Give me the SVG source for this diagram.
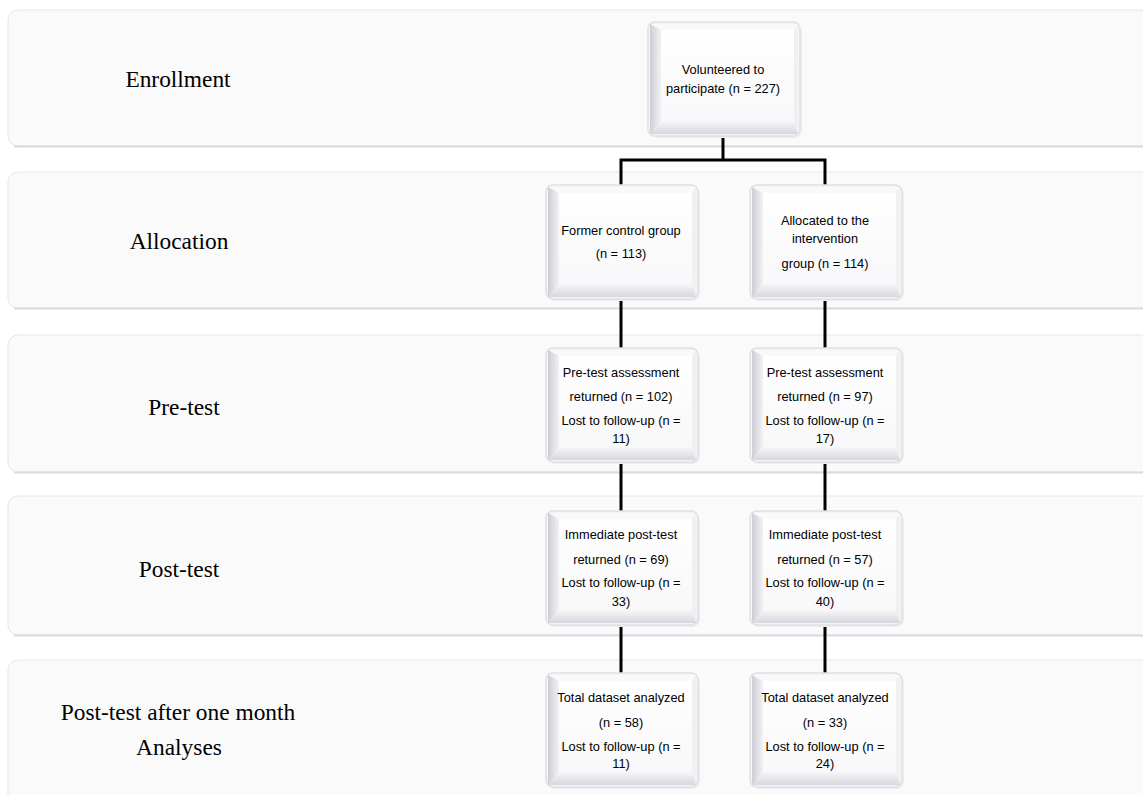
<svg xmlns="http://www.w3.org/2000/svg" width="1143" height="795" viewBox="0 0 1143 795">
<style>
.band{fill:#fafafb;stroke:#e6e6eb;stroke-width:1}
.bshadow{stroke:#d9d9e1;stroke-width:2;fill:none}
.lbl{font-family:"Liberation Serif","Times New Roman",serif;font-size:23.4px;fill:#000;text-anchor:middle}
.t{font-family:"Liberation Sans",Arial,sans-serif;font-size:12.8px;fill:#000;text-anchor:middle}
.conn{stroke:#000;stroke-width:3;fill:none;stroke-linecap:butt}
</style>
<defs>
<linearGradient id="gl" x1="0" y1="0" x2="1" y2="0">
<stop offset="0" stop-color="#cdcdd5"/>
<stop offset="1" stop-color="#f2f2f5"/>
</linearGradient>
<linearGradient id="gb" x1="0" y1="0" x2="0" y2="1">
<stop offset="0" stop-color="#f7f7f9"/>
<stop offset="1" stop-color="#d6d6de"/>
</linearGradient>
<linearGradient id="gf" x1="0" y1="0" x2="0" y2="1">
<stop offset="0" stop-color="#ffffff"/>
<stop offset="1" stop-color="#f8f8fa"/>
</linearGradient>
<symbol id="bevel" viewBox="0 0 152 114" width="152" height="114" overflow="visible">
<rect x="2" y="2" width="152" height="114" rx="8" fill="#ececf0"/>
<rect x="0" y="0" width="152" height="114" rx="7" fill="#f5f5f8" stroke="#dfdfe5" stroke-width="1.5"/>
<polygon points="2,2 150,2 146,8 13,8" fill="#f9f9fb"/>
<polygon points="2,2 13,8 13,99 2,112" fill="url(#gl)"/>
<polygon points="2,112 13,99 146,99 150,112" fill="url(#gb)"/>
<polygon points="150,2 150,112 146,99 146,8" fill="#f0f0f3"/>
<rect x="13" y="8" width="133" height="91" fill="url(#gf)"/>
</symbol>
</defs>

<g id="bands">
<rect class="band" x="8" y="10" width="1150" height="136" rx="10"/>
<line class="bshadow" x1="14" y1="146.5" x2="1143" y2="146.5"/>
<rect class="band" x="8" y="172" width="1150" height="136" rx="10"/>
<line class="bshadow" x1="14" y1="308.5" x2="1143" y2="308.5"/>
<rect class="band" x="8" y="335" width="1150" height="137" rx="10"/>
<line class="bshadow" x1="14" y1="472.5" x2="1143" y2="472.5"/>
<rect class="band" x="8" y="496" width="1150" height="139" rx="10"/>
<line class="bshadow" x1="14" y1="635.5" x2="1143" y2="635.5"/>
<rect class="band" x="8" y="660" width="1150" height="145" rx="10"/>
</g>

<g id="labels">
<text class="lbl" x="178" y="87">Enrollment</text>
<text class="lbl" x="179" y="249">Allocation</text>
<text class="lbl" x="184" y="415">Pre-test</text>
<text class="lbl" x="179" y="577">Post-test</text>
<text class="lbl" x="178" y="720">Post-test after one month</text>
<text class="lbl" x="179" y="755">Analyses</text>
</g>

<g id="connectors">
<polyline class="conn" points="723,136 723,160"/>
<polyline class="conn" points="621,185 621,160 825,160 825,185"/>
<line class="conn" x1="621" y1="299" x2="621" y2="348"/>
<line class="conn" x1="825" y1="299" x2="825" y2="348"/>
<line class="conn" x1="621" y1="462" x2="621" y2="511"/>
<line class="conn" x1="825" y1="462" x2="825" y2="511"/>
<line class="conn" x1="621" y1="624" x2="621" y2="673"/>
<line class="conn" x1="825" y1="624" x2="825" y2="673"/>
</g>

<g id="n-volunteered">
<use href="#bevel" x="648" y="22"/>
<text class="t" x="723" y="74">Volunteered to</text>
<text class="t" x="723" y="93">participate (n = 227)</text>
</g>

<g id="n-control">
<use href="#bevel" x="546" y="185"/>
<text class="t" x="621" y="235">Former control group</text>
<text class="t" x="621" y="258">(n = 113)</text>
</g>
<g id="n-intervention">
<use href="#bevel" x="750" y="185"/>
<text class="t" x="825" y="225">Allocated to the</text>
<text class="t" x="825" y="243">intervention</text>
<text class="t" x="825" y="268">group (n = 114)</text>
</g>

<g id="n-pre-control">
<use href="#bevel" x="546" y="348"/>
<text class="t" x="621" y="377">Pre-test assessment</text>
<text class="t" x="621" y="401">returned (n = 102)</text>
<text class="t" x="621" y="425">Lost to follow-up (n =</text>
<text class="t" x="621" y="443">11)</text>
</g>
<g id="n-pre-intervention">
<use href="#bevel" x="750" y="348"/>
<text class="t" x="825" y="377">Pre-test assessment</text>
<text class="t" x="825" y="401">returned (n = 97)</text>
<text class="t" x="825" y="425">Lost to follow-up (n =</text>
<text class="t" x="825" y="443">17)</text>
</g>

<g id="n-post-control">
<use href="#bevel" x="546" y="511"/>
<text class="t" x="621" y="539">Immediate post-test</text>
<text class="t" x="621" y="564">returned (n = 69)</text>
<text class="t" x="621" y="587">Lost to follow-up (n =</text>
<text class="t" x="621" y="606">33)</text>
</g>
<g id="n-post-intervention">
<use href="#bevel" x="750" y="511"/>
<text class="t" x="825" y="539">Immediate post-test</text>
<text class="t" x="825" y="564">returned (n = 57)</text>
<text class="t" x="825" y="587">Lost to follow-up (n =</text>
<text class="t" x="825" y="606">40)</text>
</g>

<g id="n-final-control">
<use href="#bevel" x="546" y="673"/>
<text class="t" x="621" y="702">Total dataset analyzed</text>
<text class="t" x="621" y="727">(n = 58)</text>
<text class="t" x="621" y="751">Lost to follow-up (n =</text>
<text class="t" x="621" y="768">11)</text>
</g>
<g id="n-final-intervention">
<use href="#bevel" x="750" y="673"/>
<text class="t" x="825" y="702">Total dataset analyzed</text>
<text class="t" x="825" y="727">(n = 33)</text>
<text class="t" x="825" y="751">Lost to follow-up (n =</text>
<text class="t" x="825" y="768">24)</text>
</g>
</svg>
